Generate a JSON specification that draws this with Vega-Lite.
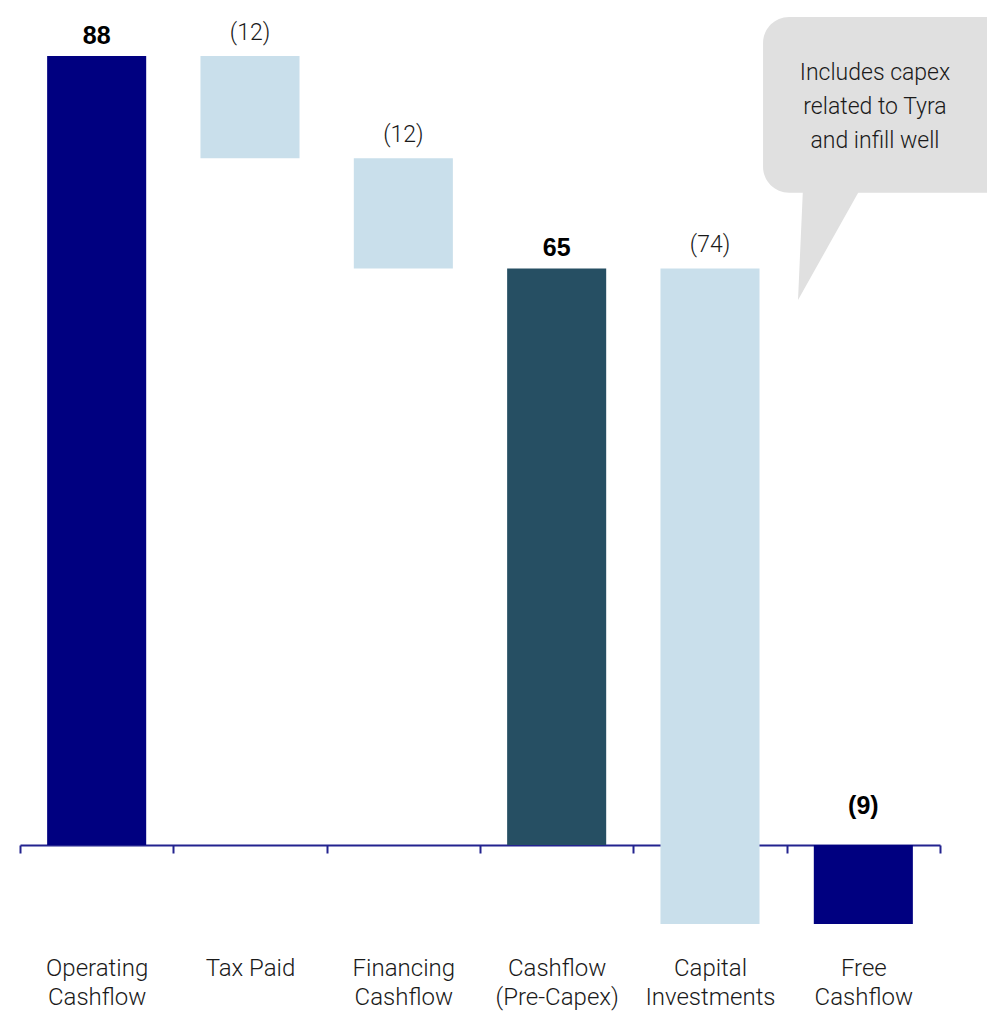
{
  "$schema": "https://vega.github.io/schema/vega-lite/v6.json",
  "autosize": {"type": "none"},
  "width": 920,
  "height": 845,
  "padding": {"left": 20, "top": 0, "right": 47, "bottom": 167},
  "background": "white",
  "config": {"view": {"stroke": null}},
  "datasets": {
    "bars": [
      {"cat": "Operating Cashflow", "start": 0, "end": 88, "top": 88, "label": "88", "kind": "total"},
      {"cat": "Tax Paid", "start": 88, "end": 76.6, "top": 88, "label": "(12)", "kind": "change"},
      {"cat": "Financing Cashflow", "start": 76.6, "end": 64.3, "top": 76.6, "label": "(12)", "kind": "change"},
      {"cat": "Cashflow (Pre-Capex)", "start": 0, "end": 64.3, "top": 64.3, "label": "65", "kind": "subtotal"},
      {"cat": "Capital Investments", "start": 64.3, "end": -8.8, "top": 64.3, "label": "(74)", "kind": "change"},
      {"cat": "Free Cashflow", "start": 0, "end": -8.8, "top": 0, "label": "(9)", "kind": "total"}
    ],
    "bubble": [{"x": 4.846, "x2": 6.5, "y": 92.35, "y2": 72.75}],
    "tail": [
      {"x": 5.074, "y": 60.78, "y2": 60.78},
      {"x": 5.107, "y": 73.5, "y2": 61.79},
      {"x": 5.491, "y": 73.5, "y2": 73.5}
    ],
    "note": [{"x": 5.576, "y": 87.3, "text": "Includes capex\nrelated to Tyra\nand infill well"}]
  },
  "layer": [
    {
      "data": {"name": "bars"},
      "layer": [
        {
          "mark": {"type": "bar", "width": {"band": 0.646}},
          "encoding": {
            "x": {
              "field": "cat", "type": "nominal", "sort": null, "title": null,
              "scale": {"paddingInner": 0, "paddingOuter": 0},
              "axis": {
                "domainColor": "#23238f", "domainWidth": 2,
                "tickColor": "#23238f", "tickWidth": 2, "tickSize": 8,
                "tickBand": "extent",
                "labelAngle": 0, "labelFont": "Roboto", "labelFontWeight": 300,
                "labelFontSize": 24, "labelColor": "#1a1a1a",
                "labelBaseline": "top", "labelLineHeight": 29, "labelPadding": 103,
                "labelExpr": "datum.value == null ? '' : (datum.value == 'Tax Paid' ? datum.value : split(datum.value, ' '))"
              }
            },
            "y": {"field": "start", "type": "quantitative", "scale": {"domain": [0, 94.24], "nice": false, "zero": false}, "axis": null},
            "y2": {"field": "end"},
            "color": {
              "field": "kind", "type": "nominal", "legend": null,
              "scale": {"domain": ["total", "change", "subtotal"], "range": ["#000080", "#c9dfeb", "#264f63"]}
            }
          }
        },
        {
          "transform": [{"filter": "datum.kind != 'change' && datum.top > 0"}],
          "mark": {"type": "text", "font": "Liberation Sans", "fontWeight": "bold", "fontSize": 25, "baseline": "alphabetic", "dy": -12, "color": "#000000"},
          "encoding": {
            "x": {"field": "cat", "type": "nominal", "sort": null},
            "y": {"field": "top", "type": "quantitative"},
            "text": {"field": "label"}
          }
        },
        {
          "transform": [{"filter": "datum.kind != 'change' && datum.top <= 0"}],
          "mark": {"type": "text", "font": "Liberation Sans", "fontWeight": "bold", "fontSize": 25, "baseline": "alphabetic", "dy": -31, "color": "#000000"},
          "encoding": {
            "x": {"field": "cat", "type": "nominal", "sort": null},
            "y": {"field": "top", "type": "quantitative"},
            "text": {"field": "label"}
          }
        },
        {
          "transform": [{"filter": "datum.kind == 'change'"}],
          "mark": {"type": "text", "font": "Roboto", "fontWeight": 300, "fontSize": 23, "baseline": "alphabetic", "dy": -16, "color": "#1a1a1a"},
          "encoding": {
            "x": {"field": "cat", "type": "nominal", "sort": null},
            "y": {"field": "top", "type": "quantitative"},
            "text": {"field": "label"}
          }
        }
      ]
    },
    {
      "layer": [
        {
          "data": {"name": "bubble"},
          "mark": {"type": "rect", "color": "#e0e0e0", "cornerRadius": 26},
          "encoding": {
            "x": {"field": "x", "type": "quantitative", "scale": {"domain": [0, 6], "nice": false, "zero": false}, "axis": null},
            "x2": {"field": "x2"},
            "y": {"field": "y", "type": "quantitative"},
            "y2": {"field": "y2"}
          }
        },
        {
          "data": {"name": "tail"},
          "mark": {"type": "area", "color": "#e0e0e0", "orient": "vertical"},
          "encoding": {
            "x": {"field": "x", "type": "quantitative"},
            "y": {"field": "y", "type": "quantitative"},
            "y2": {"field": "y2"}
          }
        },
        {
          "data": {"name": "note"},
          "mark": {"type": "text", "font": "Roboto", "fontWeight": 300, "fontSize": 23, "lineBreak": "\n", "lineHeight": 34, "baseline": "top", "align": "center", "color": "#1a1a1a"},
          "encoding": {
            "x": {"field": "x", "type": "quantitative"},
            "y": {"field": "y", "type": "quantitative"},
            "text": {"field": "text"}
          }
        }
      ]
    }
  ],
  "resolve": {"scale": {"x": "independent"}}
}
